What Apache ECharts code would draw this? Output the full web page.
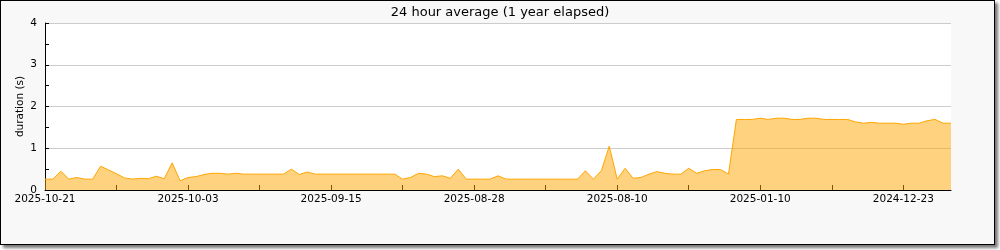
<!DOCTYPE html>
<html>
<head>
<meta charset="utf-8">
<script src="https://cdn.jsdelivr.net/npm/echarts@6/dist/echarts.min.js"></script>
<style>
html,body{margin:0;padding:0;background:#fff;}
#frame{position:absolute;left:0;top:0;width:993px;height:243px;border:1px solid #000;background:#f8f8f8;box-shadow:3px 3px 3px #777;}
#chart{position:absolute;left:0;top:0;width:1000px;height:250px;}
</style>
</head>
<body>
<div id="frame"></div>
<div id="chart"></div>
<script>
const titleText = '24 hour average (1 year elapsed)';
const yAxisName = 'duration (s)';
const categories = [
'2025-10-21','2025-10-20','2025-10-19','2025-10-18','2025-10-17','2025-10-16','2025-10-15','2025-10-14','2025-10-13','2025-10-12',
'2025-10-11','2025-10-10','2025-10-09','2025-10-08','2025-10-07','2025-10-06','2025-10-05','2025-10-04','2025-10-03','2025-10-02',
'2025-10-01','2025-09-30','2025-09-29','2025-09-28','2025-09-27','2025-09-26','2025-09-25','2025-09-24','2025-09-23','2025-09-22',
'2025-09-21','2025-09-20','2025-09-19','2025-09-18','2025-09-17','2025-09-16','2025-09-15','2025-09-14','2025-09-13','2025-09-12',
'2025-09-11','2025-09-10','2025-09-09','2025-09-08','2025-09-07','2025-09-06','2025-09-05','2025-09-04','2025-09-03','2025-09-02',
'2025-09-01','2025-08-31','2025-08-30','2025-08-29','2025-08-28','2025-08-27','2025-08-26','2025-08-25','2025-08-24','2025-08-23',
'2025-08-22','2025-08-21','2025-08-20','2025-08-19','2025-08-18','2025-08-17','2025-08-16','2025-08-15','2025-08-14','2025-08-13',
'2025-08-12','2025-08-11','2025-08-10','2025-08-09','2025-08-08','2025-08-07','2025-08-06','2025-08-05','2025-08-04','2025-08-03',
'2025-08-02','2025-08-01','2025-07-31','2025-07-30','2025-07-29','2025-07-28','2025-01-14','2025-01-13','2025-01-12','2025-01-11',
'2025-01-10','2025-01-09','2025-01-08','2025-01-07','2025-01-06','2025-01-05','2025-01-04','2025-01-03','2025-01-02','2025-01-01',
'2024-12-31','2024-12-30','2024-12-29','2024-12-28','2024-12-27','2024-12-26','2024-12-25','2024-12-24','2024-12-23','2024-12-22',
'2024-12-21','2024-12-20','2024-12-19','2024-12-18','2024-12-17'
];
const durations = [
0.26,0.26,0.45,0.26,0.30,0.26,0.26,0.57,0.48,0.39,
0.29,0.26,0.28,0.27,0.33,0.27,0.65,0.22,0.30,0.32,
0.37,0.40,0.40,0.38,0.40,0.38,0.38,0.38,0.38,0.38,
0.38,0.50,0.37,0.43,0.38,0.38,0.38,0.38,0.38,0.38,
0.38,0.38,0.38,0.38,0.38,0.26,0.30,0.40,0.38,0.32,
0.34,0.28,0.50,0.26,0.26,0.26,0.26,0.34,0.26,0.26,
0.26,0.26,0.26,0.26,0.26,0.26,0.26,0.26,0.46,0.26,
0.46,1.05,0.26,0.52,0.28,0.30,0.38,0.44,0.40,0.38,
0.38,0.52,0.40,0.46,0.49,0.49,0.38,1.69,1.69,1.69,
1.72,1.69,1.72,1.72,1.69,1.69,1.72,1.72,1.69,1.69,
1.69,1.69,1.63,1.60,1.62,1.60,1.60,1.60,1.575,1.60,
1.60,1.66,1.69,1.60,1.60
];
const labelEvery = 18;
const tickEvery = 9;
const yMin = 0, yMax = 4, yStep = 1;

const chart = echarts.init(document.getElementById('chart'), null, {renderer: 'canvas'});
const font = 'DejaVu Sans';
chart.setOption({
  animation: false,
  backgroundColor: 'transparent',
  title: {
    text: titleText, left: 'center', top: 1,
    textStyle: {fontFamily: font, fontSize: 13, fontWeight: 'normal', color: '#000'}
  },
  grid: {left: 45, right: 49, top: 23, bottom: 60, show: true, backgroundColor: '#fff', borderWidth: 0, containLabel: false},
  xAxis: {
    type: 'category', data: categories, boundaryGap: false,
    axisLine: {lineStyle: {color: '#000', width: 1}},
    axisTick: {show: true, inside: true, length: 5, interval: function (i) { return i % tickEvery === 0; }, lineStyle: {color: '#000'}},
    axisLabel: {interval: function (i) { return i % labelEvery === 0; }, hideOverlap: false, fontFamily: font, fontSize: 10.5, color: '#000', margin: 4},
    splitLine: {show: false}
  },
  yAxis: {
    type: 'value', min: yMin, max: yMax, interval: yStep,
    name: yAxisName, nameLocation: 'middle', nameGap: 19, nameMoveOverlap: false,
    nameTextStyle: {fontFamily: font, fontSize: 10.5, color: '#000'},
    axisLine: {show: true, lineStyle: {color: '#000', width: 1}},
    axisTick: {show: true, inside: true, length: 4, lineStyle: {color: '#000'}},
    minorTick: {show: true, splitNumber: 2, length: 4, lineStyle: {color: '#000'}},
    axisLabel: {fontFamily: font, fontSize: 10.5, color: '#000', margin: 8},
    splitLine: {show: true, lineStyle: {color: '#cccccc', width: 1}}
  },
  series: [{
    type: 'line', data: durations, symbol: 'none', smooth: false,
    lineStyle: {color: '#ffa500', width: 1},
    areaStyle: {color: '#ffa500', opacity: 0.5},
    itemStyle: {color: '#ffa500'}
  }]
});
</script>
</body>
</html>
